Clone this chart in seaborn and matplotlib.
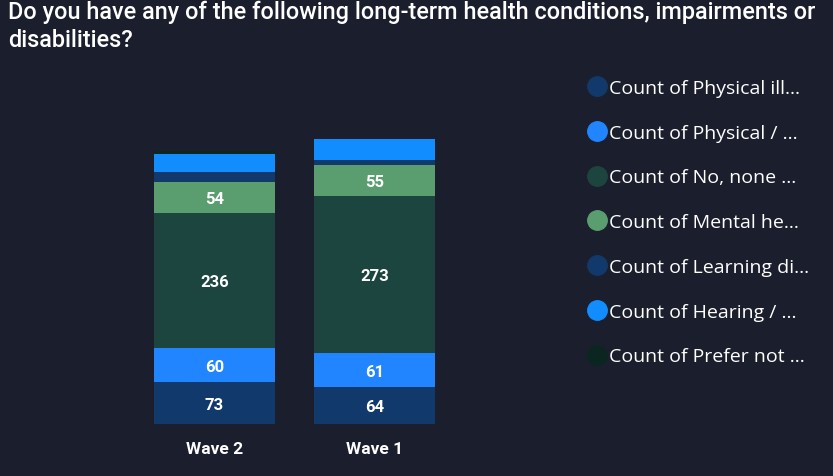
import matplotlib
matplotlib.use("Agg")
import matplotlib.pyplot as plt
from matplotlib.lines import Line2D
import seaborn as sns
import numpy as np

categories = ["Wave 2", "Wave 1"]
series_names = [
    "Count of Physical ill...",
    "Count of Physical / ...",
    "Count of No, none ...",
    "Count of Mental he...",
    "Count of Learning di...",
    "Count of Hearing / ...",
    "Count of Prefer not ...",
]
physical_ill = [73, 64]
physical_mob = [60, 61]
no_none = [236, 273]
mental = [54, 55]
learning = [18, 9]
hearing = [31, 36]
prefer_not = [6, 0]
series_values = [physical_ill, physical_mob, no_none, mental, learning, hearing, prefer_not]
colors = ["#12396b", "#2185ff", "#1c4540", "#5a9e6f", "#12396b", "#118dff", "#0b2620"]

BG = "#1b1e2c"
sns.set_theme(style="white")
plt.rcParams["font.family"] = ["Roboto", "DejaVu Sans"]

fig = plt.figure(figsize=(8.33, 4.77), dpi=100)
fig.patch.set_facecolor(BG)
W, H = 833, 477
ax_left, ax_right = 134.5, 454.5
ax_bottom = 425
ax_top = 425 - 520 * 0.572
ax = fig.add_axes([ax_left / W, 1 - ax_bottom / H, (ax_right - ax_left) / W, (ax_bottom - ax_top) / H])
ax.set_facecolor(BG)

bottom = np.zeros(len(categories))
for name, vals, col in zip(series_names, series_values, colors):
    vals = np.array(vals, dtype=float)
    sns.barplot(x=categories, y=vals, bottom=bottom, color=col, width=0.756,
                ax=ax, saturation=1, order=categories, linewidth=0, edgecolor="none")
    for i, v in enumerate(vals):
        if v >= 40:
            ax.text(i, bottom[i] + v / 2 - 2, f"{int(v)}", ha="center", va="center",
                    color="white", fontsize=12, fontweight="bold")
    bottom = bottom + vals

ax.set_xlim(-0.5, 1.5)
ax.set_ylim(0, 520)
ax.set_yticks([])
ax.tick_params(axis="x", length=0, pad=12, labelsize=12.5, colors="white")
for lab in ax.get_xticklabels():
    lab.set_fontweight("bold")
for s in ax.spines.values():
    s.set_visible(False)
ax.set_xlabel("")
ax.set_ylabel("")

fig.text(8 / W, 1 - 1 / H, "Do you have any of the following long-term health conditions, impairments or\ndisabilities?",
         ha="left", va="top", color="white", fontsize=16.9, linespacing=1.25, fontweight="medium")

handles = [Line2D([], [], marker="o", linestyle="", markersize=14, markerfacecolor=c,
                  markeredgecolor=c) for c in colors]
leg = fig.legend(handles, series_names, loc="upper left", bbox_to_anchor=(585 / W, 1 - 80 / H),
                 frameon=False, fontsize=14, labelspacing=1.375, handletextpad=0.05,
                 handlelength=1.2, borderaxespad=0, borderpad=0)
for t in leg.get_texts():
    t.set_color("white")
    t.set_family(["Open Sans", "DejaVu Sans"])

fig.savefig("out.png", dpi=100, facecolor=BG)
